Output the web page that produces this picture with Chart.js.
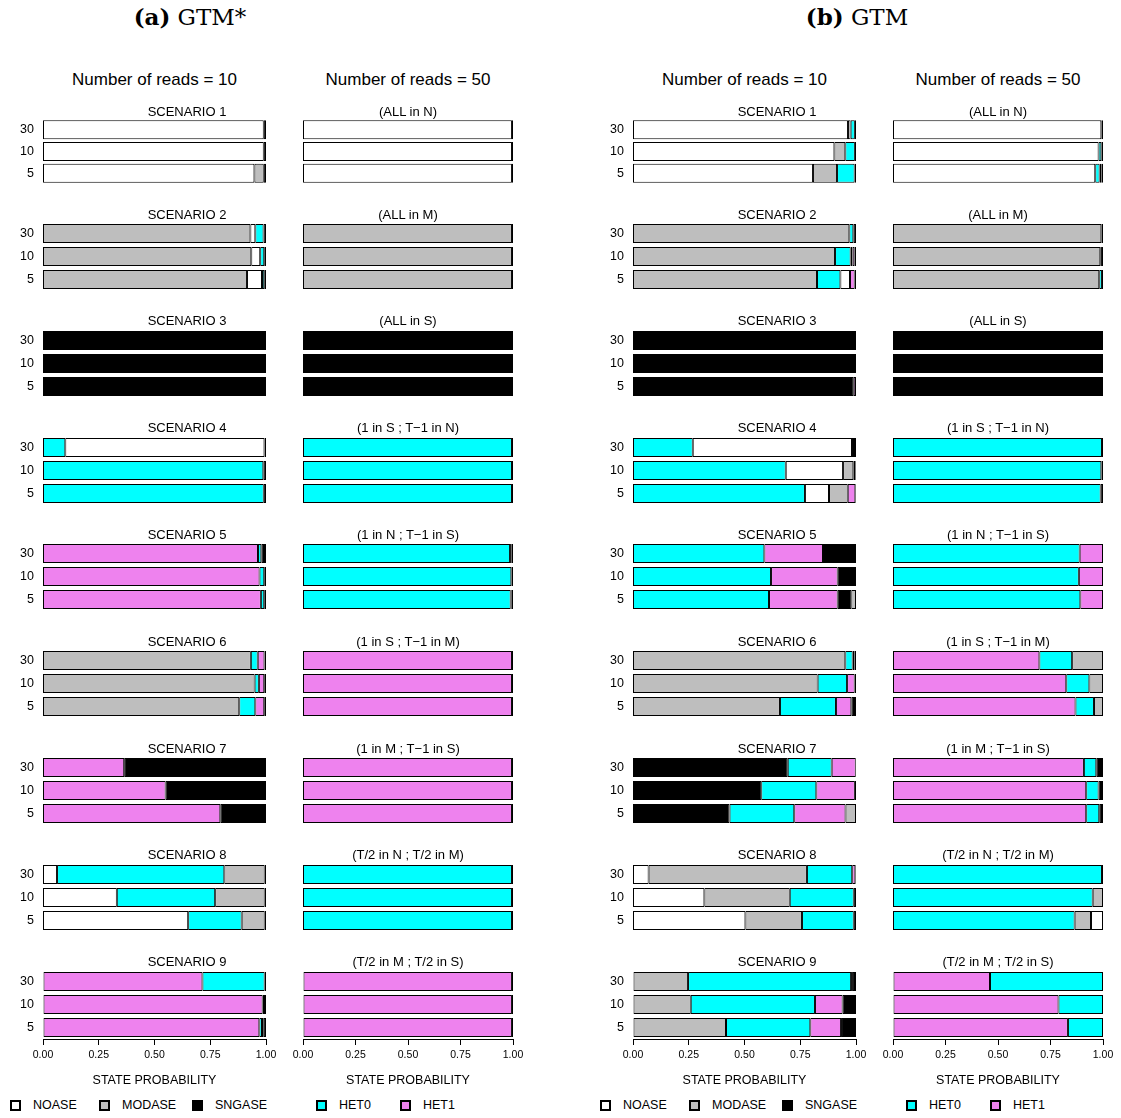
<!DOCTYPE html>
<html>
<head>
<meta charset="utf-8">
<title>GTM state probabilities</title>
<script src="https://cdn.jsdelivr.net/npm/chart.js@4.4.1/dist/chart.umd.min.js"></script>
<style>
    body { margin: 0; background: #fff; }
    #page { position: relative; width: 1121px; height: 1118px; overflow: hidden;
            font-family: "Liberation Sans", Arial, Helvetica, sans-serif; color: #000; }
    .txt { position: absolute; white-space: nowrap; transform: translate(-50%, -50%); line-height: 1; }
    .leg { position: absolute; white-space: nowrap; transform: translateY(-50%); font-size: 12.5px; line-height: 1; }
    .box { position: absolute; width: 11px; height: 11px; box-sizing: border-box; border: 2px solid #000; }
    canvas { position: absolute; }
</style>
</head>
<body>
<div id="page"></div>
<script>
// states, in legend order
var stateNames = ['NOASE', 'MODASE', 'SNGASE', 'HET0', 'HET1'];
var stateCodes = ['N', 'M', 'S', '0', '1'];
var stateColors = ['#FFFFFF', '#BEBEBE', '#000000', '#00FFFF', '#EE82EE'];

var depthLabels = ['30', '10', '5'];
var xTickStep = 0.25;

var scenarioTitles = ['SCENARIO 1', 'SCENARIO 2', 'SCENARIO 3', 'SCENARIO 4', 'SCENARIO 5',
    'SCENARIO 6', 'SCENARIO 7', 'SCENARIO 8', 'SCENARIO 9'];
var truthTitles = ['(ALL in N)', '(ALL in M)', '(ALL in S)', '(1 in S ; T\u22121 in N)', '(1 in N ; T\u22121 in S)',
    '(1 in S ; T\u22121 in M)', '(1 in M ; T\u22121 in S)', '(T/2 in N ; T/2 in M)', '(T/2 in M ; T/2 in S)'];

// 9 scenarios x depth (30, 10, 5) -> 27 values per state

// GTM*, number of reads = 10
var star10_noase  = [0.99,0.99,0.948, 0.022,0.04,0.067, 0,0,0, 0.893,0,0, 0,0,0, 0,0,0, 0,0,0, 0.063,0.331,0.651, 0,0,0];
var star10_modase = [0,0,0.042, 0.93,0.934,0.915, 0,0,0, 0,0,0, 0,0,0, 0.932,0.949,0.88, 0,0,0, 0.181,0.222,0.103, 0,0,0.008];
var star10_sngase = [0.01,0.01,0.01, 0.011,0.008,0.008, 1,1,1, 0.007,0.012,0.01, 0.021,0.008,0.008, 0.007,0.008,0.008, 0.636,0.45,0.205, 0.006,0.006,0.006, 0.006,0.009,0.01];
var star10_het0   = [0,0,0, 0.037,0.018,0.01, 0,0,0, 0.10,0.988,0.99, 0.015,0.021,0.015, 0.031,0.019,0.072, 0,0,0, 0.75,0.441,0.24, 0.279,0.006,0.012];
var star10_het1   = [0,0,0, 0,0,0, 0,0,0, 0,0,0, 0.964,0.971,0.977, 0.03,0.024,0.04, 0.364,0.55,0.795, 0,0,0, 0.715,0.985,0.97];
var star10_order  = ['NMS', 'MN0S', 'S', '0NS', '10S', 'M01S', '1S', 'N0MS', '10MS'];

// GTM*, number of reads = 50
var star50_noase  = [0.995,0.995,0.995, 0,0,0, 0,0,0, 0,0,0, 0,0,0, 0,0,0, 0,0,0, 0,0,0, 0,0,0];
var star50_modase = [0,0,0, 0.995,0.995,0.995, 0,0,0, 0,0,0, 0,0,0, 0,0,0, 0,0,0, 0,0,0, 0,0,0];
var star50_sngase = [0.005,0.005,0.005, 0.005,0.005,0.005, 1,1,1, 0.005,0.005,0.005, 0.006,0.008,0.006, 0.005,0.005,0.005, 0.005,0.005,0.005, 0.005,0.005,0.005, 0.005,0.005,0.005];
var star50_het0   = [0,0,0, 0,0,0, 0,0,0, 0.995,0.995,0.995, 0.986,0.992,0.989, 0,0,0, 0,0,0, 0.995,0.995,0.995, 0,0,0];
var star50_het1   = [0,0,0, 0,0,0, 0,0,0, 0,0,0, 0.008,0,0.005, 0.995,0.995,0.995, 0.995,0.995,0.995, 0,0,0, 0.995,0.995,0.995];
var star50_order  = ['NS', 'MS', 'S', '0S', '01S', '1S', '1S', '0S', '1S'];

// GTM, number of reads = 10
var gtm10_noase  = [0.964,0.903,0.807, 0,0.008,0.043, 0,0,0, 0.714,0.257,0.108, 0,0,0, 0,0,0, 0,0,0, 0.07,0.32,0.504, 0,0,0];
var gtm10_modase = [0.012,0.049,0.108, 0.97,0.906,0.825, 0,0,0, 0.009,0.046,0.084, 0,0,0.021, 0.952,0.828,0.659, 0.001,0.005,0.047, 0.71,0.383,0.254, 0.247,0.259,0.417];
var gtm10_sngase = [0.005,0.005,0.006, 0.012,0.006,0.006, 1,1,0.99, 0.009,0.003,0.003, 0.148,0.082,0.061, 0.006,0.006,0.021, 0.694,0.575,0.433, 0.003,0.01,0.01, 0.014,0.06,0.067];
var gtm10_het0   = [0.019,0.043,0.079, 0.018,0.07,0.105, 0,0,0, 0.268,0.685,0.771, 0.589,0.619,0.61, 0.033,0.132,0.251, 0.197,0.247,0.29, 0.203,0.287,0.232, 0.731,0.557,0.378];
var gtm10_het1   = [0,0,0, 0,0.01,0.021, 0,0,0.01, 0,0.009,0.034, 0.263,0.299,0.308, 0.009,0.034,0.069, 0.108,0.173,0.23, 0.014,0,0, 0.008,0.124,0.138];
var gtm10_order  = ['NM0S', 'M0N1S', 'S1', '0NM1S', '01SM', 'M01S', 'S01M', 'NM01S', 'M01S'];

// GTM, number of reads = 50
var gtm50_noase  = [0.992,0.979,0.963, 0,0,0, 0,0,0, 0,0,0, 0,0,0, 0,0,0, 0,0,0, 0,0,0.057, 0,0,0];
var gtm50_modase = [0,0,0.008, 0.992,0.987,0.982, 0,0,0, 0,0,0, 0,0,0, 0.147,0.065,0.043, 0,0,0, 0,0.049,0.078, 0,0,0];
var gtm50_sngase = [0.008,0.008,0.008, 0.008,0.005,0.005, 1,1,1, 0.005,0.008,0.011, 0,0,0, 0,0,0, 0.032,0.021,0.018, 0.005,0,0, 0,0,0];
var gtm50_het0   = [0,0.013,0.021, 0,0.008,0.013, 0,0,0, 0.995,0.992,0.989, 0.889,0.885,0.892, 0.156,0.11,0.088, 0.059,0.059,0.062, 0.995,0.951,0.865, 0.538,0.212,0.167];
var gtm50_het1   = [0,0,0, 0,0,0, 0,0,0, 0,0,0, 0.111,0.115,0.108, 0.697,0.825,0.869, 0.909,0.92,0.92, 0,0,0, 0.462,0.788,0.833];
var gtm50_order  = ['N0MS', 'M0S', 'S', '0S', '01', '10M', '10S', '0MNS', '10'];


var page = document.getElementById('page');

// column layout (plot area in page pixels)
var columns = [
    { header: 'Number of reads = 10', left: 43, right: 266, yLabels: true, titleX: 187, titles: scenarioTitles,
      values: [star10_noase, star10_modase, star10_sngase, star10_het0, star10_het1], order: star10_order },
    { header: 'Number of reads = 50', left: 303, right: 513, yLabels: false, titleX: 408, titles: truthTitles,
      values: [star50_noase, star50_modase, star50_sngase, star50_het0, star50_het1], order: star50_order },
    { header: 'Number of reads = 10', left: 633, right: 856, yLabels: true, titleX: 777, titles: scenarioTitles,
      values: [gtm10_noase, gtm10_modase, gtm10_sngase, gtm10_het0, gtm10_het1], order: gtm10_order },
    { header: 'Number of reads = 50', left: 893, right: 1103, yLabels: false, titleX: 998, titles: truthTitles,
      values: [gtm50_noase, gtm50_modase, gtm50_sngase, gtm50_het0, gtm50_het1], order: gtm50_order }
];

var Y_AXIS_W = 43;
var PAD_SIDE = 18;
var PAD_RIGHT = 16;
var PAD_V = 9;
var X_AXIS_H = 50;

function addText(html, x, y, size, extra) {
    var d = document.createElement('div');
    d.className = 'txt';
    d.innerHTML = html;
    d.style.left = x + 'px';
    d.style.top = y + 'px';
    d.style.fontSize = size + 'px';
    if (extra) Object.assign(d.style, extra);
    page.appendChild(d);
    return d;
}

function panelTop(g) {
    return g === 0 ? 119 : 222 + (g - 1) * 106.8;
}

function panelHeight(g) {
    return g === 0 ? 65 : 69;
}

// stacked segments in the order they appear in that panel
function panelDatasets(col, g) {
    var seq = col.order[g].split('').map(function (c) { return stateCodes.indexOf(c); });
    stateCodes.forEach(function (c, i) {
        if (seq.indexOf(i) < 0) seq.push(i);
    });
    return seq.map(function (s) {
        return {
            label: stateNames[s],
            data: col.values[s].slice(g * 3, g * 3 + 3).map(function (v) { return v || null; }),
            backgroundColor: stateColors[s],
            borderColor: '#000',
            borderWidth: 1,
            borderSkipped: false,
            inflateAmount: 0,
            barThickness: 19
        };
    });
}

function drawPanel(col, g) {
    var bottomRow = (g === scenarioTitles.length - 1);
    var padL = col.yLabels ? Y_AXIS_W : PAD_SIDE;
    var padB = bottomRow ? X_AXIS_H : PAD_V;
    var canvas = document.createElement('canvas');
    var w = (col.right - col.left) + padL + PAD_RIGHT;
    var h = panelHeight(g) + PAD_V + padB;
    canvas.width = w;
    canvas.height = h;
    canvas.style.width = w + 'px';
    canvas.style.height = h + 'px';
    canvas.style.left = (col.left - padL) + 'px';
    canvas.style.top = (panelTop(g) - PAD_V) + 'px';
    page.appendChild(canvas);

    addText(col.titles[g], col.titleX, panelTop(g) - 8.5, 13);

    new Chart(canvas.getContext('2d'), {
        type: 'bar',
        data: {
            labels: depthLabels,
            datasets: panelDatasets(col, g)
        },
        options: {
            indexAxis: 'y',
            responsive: false,
            animation: false,
            devicePixelRatio: 1,
            layout: {
                padding: { left: col.yLabels ? 0 : PAD_SIDE, right: PAD_RIGHT, top: PAD_V, bottom: bottomRow ? 0 : PAD_V }
            },
            plugins: {
                legend: { display: false },
                tooltip: { enabled: false },
                title: { display: false }
            },
            scales: {
                y: {
                    type: 'category',
                    stacked: true,
                    display: col.yLabels,
                    // invisible tick marks keep the labels off the bars without adding vertical padding
                    grid: { display: true, drawOnChartArea: false, drawTicks: true, tickLength: 9, color: 'rgba(0,0,0,0)' },
                    border: { display: false },
                    ticks: {
                        color: '#000',
                        padding: 0,
                        autoSkip: false,
                        font: { family: '"Liberation Sans", Arial, sans-serif', size: 12.5 }
                    },
                    // afterFit runs even for hidden scales, so only fix the width when shown
                    afterFit: function (scale) { if (col.yLabels) scale.width = Y_AXIS_W; }
                },
                x: {
                    type: 'linear',
                    stacked: true,
                    min: 0,
                    max: 1,
                    display: bottomRow,
                    grid: { drawOnChartArea: false, drawTicks: true, tickLength: 6, color: '#000' },
                    border: { display: true, color: '#000', width: 1 },
                    ticks: {
                        stepSize: xTickStep,
                        color: '#000',
                        padding: 4,
                        font: { family: '"Liberation Sans", Arial, sans-serif', size: 10.5 },
                        callback: function (v) { return Number(v).toFixed(2); }
                    },
                    title: {
                        display: true,
                        text: 'STATE PROBABILITY',
                        color: '#000',
                        padding: { top: 0, bottom: 1 },
                        font: { family: '"Liberation Sans", Arial, sans-serif', size: 12.5 }
                    },
                    afterFit: function (scale) { if (bottomRow) scale.height = X_AXIS_H; }
                }
            }
        }
    });
}

// figure titles
var serif = { fontFamily: '"DejaVu Serif", "Liberation Serif", serif' };
addText('<b>(a)</b> GTM*', 190, 17, 23, serif);
addText('<b>(b)</b> GTM', 857, 17, 23, serif);

columns.forEach(function (col) {
    addText(col.header, (col.left + col.right) / 2, 79, 17);
    for (var g = 0; g < scenarioTitles.length; g++) {
        drawPanel(col, g);
    }
});

// legends, one under each half
var legendBoxX = [10, 99, 192, 316, 400];
[0, 590].forEach(function (offset) {
    stateNames.forEach(function (name, i) {
        var b = document.createElement('div');
        b.className = 'box';
        b.style.left = (legendBoxX[i] + offset) + 'px';
        b.style.top = '1099.5px';
        b.style.background = stateColors[i];
        page.appendChild(b);

        var t = document.createElement('div');
        t.className = 'leg';
        t.textContent = name;
        t.style.left = (legendBoxX[i] + offset + 23) + 'px';
        t.style.top = '1105px';
        page.appendChild(t);
    });
});
</script>
</body>
</html>
